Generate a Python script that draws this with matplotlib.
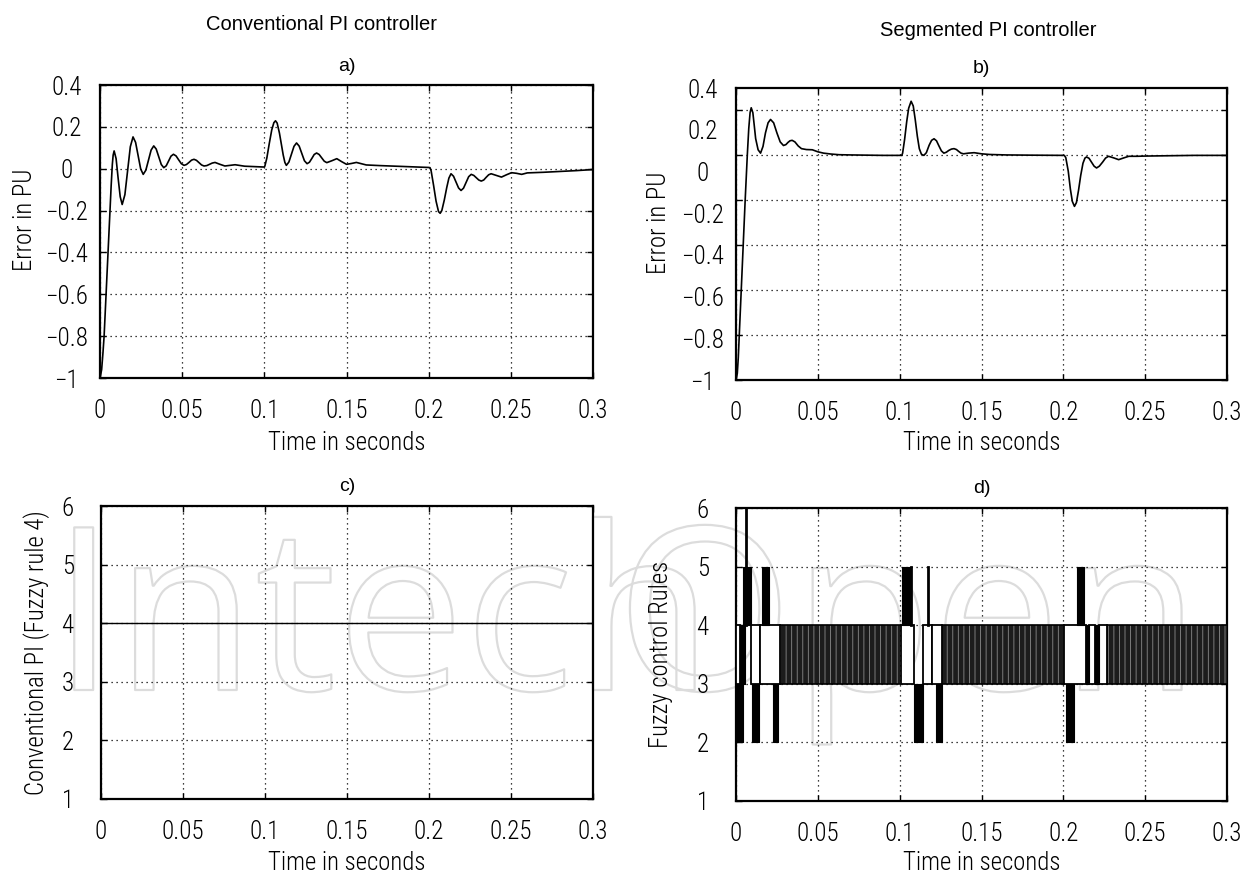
import matplotlib
matplotlib.use('Agg')
import matplotlib.pyplot as plt
from matplotlib import font_manager as fm
from matplotlib.font_manager import FontProperties
from matplotlib.patches import Rectangle
from matplotlib import patheffects as pe

# ---------------- data ----------------
t_a = [0, 0.001, 0.0018, 0.0025, 0.0037, 0.0049, 0.0061, 0.0068, 0.0075, 0.008, 0.0086,
       0.0098, 0.0110, 0.0123, 0.0135, 0.01515, 0.0168, 0.01845, 0.0201, 0.02165, 0.0232, 0.02475,
       0.0263, 0.0279, 0.0295, 0.0311, 0.0327, 0.0342, 0.03575, 0.0373, 0.0388, 0.0403, 0.04175,
       0.0432, 0.0447, 0.0463, 0.0479, 0.0495, 0.0511, 0.0526, 0.05415, 0.0557, 0.0572, 0.0587,
       0.06025, 0.0618, 0.0633, 0.065, 0.0667, 0.0683, 0.070, 0.073, 0.076, 0.079, 0.0822, 0.088,
       0.094, 0.0999, 0.1003, 0.1015, 0.1030, 0.1045, 0.1058, 0.1068, 0.1078, 0.1092, 0.1103,
       0.1115, 0.1125, 0.1134, 0.11495, 0.1165, 0.11805, 0.1196, 0.1212, 0.1228, 0.1244, 0.126,
       0.12745, 0.1289, 0.13035, 0.1318, 0.13335, 0.1349, 0.13645, 0.138, 0.14105, 0.1441, 0.147,
       0.150, 0.153, 0.156, 0.162, 0.17, 0.18, 0.19, 0.2, 0.2008, 0.2015, 0.203, 0.2045, 0.206,
       0.207, 0.208, 0.2095, 0.211, 0.2123, 0.2136, 0.21513, 0.21665, 0.2182, 0.2197, 0.2212,
       0.2228, 0.22435, 0.2259, 0.22745, 0.22895, 0.2305, 0.232, 0.2335, 0.235, 0.2365, 0.238,
       0.24115, 0.2443, 0.24735, 0.2504, 0.2535, 0.2566, 0.26, 0.27, 0.28, 0.29, 0.3]
err_a = [-1.0, -0.96, -0.88, -0.80, -0.60, -0.40, -0.20, -0.08, 0.02, 0.065, 0.085,
         0.048, -0.043, -0.134, -0.171, -0.124, -0.010, 0.105, 0.152, 0.126, 0.062, -0.001,
         -0.027, -0.007, 0.041, 0.089, 0.109, 0.094, 0.057, 0.020, 0.005, 0.014, 0.037,
         0.060, 0.069, 0.061, 0.042, 0.024, 0.016, 0.020, 0.030, 0.041, 0.045, 0.040,
         0.029, 0.018, 0.013, 0.015, 0.021, 0.027, 0.030, 0.021, 0.013, 0.016, 0.019, 0.012,
         0.010, 0.008, 0.012, 0.05, 0.12, 0.185, 0.22, 0.229, 0.218, 0.17, 0.12,
         0.065, 0.03, 0.016, 0.032, 0.069, 0.107, 0.123, 0.108, 0.073, 0.038, 0.024,
         0.031, 0.049, 0.068, 0.075, 0.068, 0.052, 0.036, 0.029, 0.038, 0.048, 0.034,
         0.021, 0.025, 0.030, 0.018, 0.015, 0.012, 0.009, 0.006, 0.005, -0.01, -0.08, -0.155, -0.205,
         -0.213, -0.20, -0.15, -0.09, -0.045, -0.024, -0.036, -0.064, -0.092, -0.104, -0.093,
         -0.065, -0.038, -0.027, -0.032, -0.043, -0.054, -0.059, -0.054, -0.041, -0.029, -0.024,
         -0.032, -0.040, -0.029, -0.019, -0.022, -0.027, -0.020, -0.017, -0.013, -0.009, -0.004]

t_b = [0, 0.0008, 0.0014, 0.002, 0.0032, 0.0044, 0.0056, 0.0069, 0.0078, 0.0086, 0.0093,
       0.0103, 0.0112, 0.012, 0.0135, 0.015, 0.0165, 0.018, 0.0196, 0.0211, 0.023, 0.025, 0.027,
       0.029, 0.0305, 0.0318, 0.033, 0.0343, 0.036, 0.038, 0.040, 0.043, 0.0466, 0.05, 0.0535,
       0.058, 0.063, 0.07, 0.08, 0.09, 0.1013, 0.1018, 0.103, 0.1043, 0.1055, 0.107, 0.1083,
       0.1095, 0.1108, 0.112, 0.1133, 0.1148, 0.1163, 0.118, 0.1195, 0.121, 0.1225, 0.124, 0.1255,
       0.127, 0.1285, 0.130, 0.1316, 0.1332, 0.1347, 0.136, 0.1375, 0.139, 0.142, 0.1455, 0.15,
       0.155, 0.165, 0.18, 0.2006, 0.2015, 0.203, 0.2043, 0.2055, 0.2068, 0.208, 0.2093, 0.2106,
       0.212, 0.2132, 0.2142, 0.2157, 0.2172, 0.2188, 0.2203, 0.222, 0.224, 0.2258, 0.2276,
       0.2307, 0.2338, 0.237, 0.24, 0.245, 0.25, 0.26, 0.27, 0.28, 0.3]
err_b = [-1.0, -0.97, -0.90, -0.80, -0.60, -0.40, -0.20, 0.0, 0.12, 0.19, 0.212,
         0.19, 0.13, 0.075, 0.025, 0.010, 0.04, 0.10, 0.145, 0.16, 0.145, 0.10, 0.06,
         0.044, 0.048, 0.058, 0.065, 0.067, 0.06, 0.042, 0.030, 0.026, 0.025, 0.016, 0.010,
         0.006, 0.003, 0.002, 0.001, 0.0, 0.0, 0.01, 0.07, 0.15, 0.21, 0.241, 0.22,
         0.16, 0.085, 0.03, 0.005, 0.0, 0.012, 0.045, 0.067, 0.074, 0.065, 0.042, 0.02,
         0.010, 0.014, 0.022, 0.028, 0.030, 0.026, 0.018, 0.010, 0.007, 0.010, 0.012, 0.007,
         0.004, 0.002, 0.001, 0.0, -0.01, -0.07, -0.15, -0.205, -0.227, -0.21, -0.155, -0.09,
         -0.035, -0.012, -0.007, -0.013, -0.03, -0.048, -0.056, -0.048, -0.03, -0.012, -0.004,
         -0.011, -0.019, -0.011, -0.004, -0.004, -0.003, -0.002, -0.001, 0.0, 0.0]

# panel c: conventional PI always uses fuzzy rule 4
t_c = [0.0, 0.3]
rule_c = [4, 4]

# panel d: fuzzy rule activity, read as blocks
solid_start = [0.0000, 0.0023, 0.0043, 0.0098, 0.0161, 0.0226, 0.1016, 0.1087, 0.1222, 0.2014, 0.2085, 0.2141, 0.2195]
solid_end   = [0.0043, 0.0057, 0.0092, 0.0139, 0.0200, 0.0255, 0.1062, 0.1141, 0.1258, 0.2063, 0.2129, 0.2154, 0.2220]
solid_low   = [2, 3, 4, 2, 4, 2, 4, 2, 2, 2, 4, 3, 3]
solid_high  = [3, 4, 5, 3, 5, 3, 5, 3, 3, 3, 5, 4, 4]

box_start = [0.0000, 0.0092, 0.0149, 0.1006, 0.1141, 0.1197, 0.2007, 0.2154, 0.2220]
box_end   = [0.0023, 0.0149, 0.0271, 0.1087, 0.1197, 0.1258, 0.2141, 0.2195, 0.2269]
box_low, box_high = 3, 4

dense_start = [0.0271, 0.1258, 0.2269]
dense_end   = [0.1000, 0.2002, 0.3000]
dense_low, dense_high = 3, 4

spike_t    = [0.0060, 0.1067, 0.1173]
spike_low  = [4, 4, 4]
spike_high = [6, 5, 5]

x_ticks = [0, 0.05, 0.1, 0.15, 0.2, 0.25, 0.3]
x_labels = ['0', '0.05', '0.1', '0.15', '0.2', '0.25', '0.3']
err_ticks = [-1, -0.8, -0.6, -0.4, -0.2, 0, 0.2, 0.4]
err_labels = ['\u22121', '\u22120.8', '\u22120.6', '\u22120.4', '\u22120.2', '0', '0.2', '0.4']
rule_ticks = [1, 2, 3, 4, 5, 6]
rule_labels = ['1', '2', '3', '4', '5', '6']

# ---------------- fonts ----------------
def pick_condensed():
    best, best_score = None, -1
    for f in fm.fontManager.ttflist:
        nm = f.name.lower()
        fn = f.fname.lower()
        if 'italic' in fn or 'oblique' in fn or 'bold' in fn or f.style != 'normal':
            continue
        cond = ('narrow' in nm or 'condensed' in nm or 'condensed' in fn or 'narrow' in fn
                or f.stretch in ('condensed', 'semi-condensed', 'extra-condensed'))
        if not cond:
            continue
        score = 1
        if 'narrow' in nm or 'narrow' in fn:
            score = 5
        elif 'roboto' in fn and 'light' in fn:
            score = 6
        elif 'dejavu' in fn:
            score = 3
        elif 'light' in fn:
            score = 4
        if score > best_score:
            best, best_score = f, score
    return best

names = {f.name for f in fm.fontManager.ttflist}
cf = pick_condensed()
if cf is not None:
    thin_fp = FontProperties(fname=cf.fname)
    TICK_FS, LAB_FS = 18, 17.8
else:
    thin_fp = FontProperties(family='DejaVu Sans')
    TICK_FS, LAB_FS = 15, 15
head = 'Liberation Sans' if 'Liberation Sans' in names else 'DejaVu Sans'
wm_family = 'Open Sans' if 'Open Sans' in names else 'DejaVu Sans'

def tfp(size):
    p = thin_fp.copy()
    p.set_size(size)
    return p

# ---------------- figure ----------------
fig = plt.figure(figsize=(12.6, 8.73), dpi=100)
fig.patch.set_facecolor('white')

def px_axes(left, top, right, bottom):
    W, H = 1260.0, 873.0
    return fig.add_axes([left / W, 1 - bottom / H, (right - left) / W, (bottom - top) / H])

ax_a = px_axes(100, 85, 593, 378)
ax_b = px_axes(736, 88, 1227, 380)
ax_c = px_axes(101, 506, 593, 799)
ax_d = px_axes(736, 508, 1227, 801)

def style(ax):
    ax.set_facecolor('none')
    for s in ax.spines.values():
        s.set_linewidth(1.6)
        s.set_color('black')
    ax.grid(True, linestyle=(0, (1, 3)), color='black', linewidth=0.9)
    ax.tick_params(direction='in', top=True, right=True, length=4, width=1)
    ax.tick_params(axis='x', pad=15)
    ax.tick_params(axis='y', pad=24)
    ax.set_xlim(0, 0.3)
    ax.set_xticks(x_ticks)
    ax.set_xticklabels(x_labels, fontproperties=tfp(TICK_FS))
    ax.set_xlabel('Time in seconds', fontproperties=tfp(LAB_FS))
    ax.set_axisbelow(True)

def set_ylabels(axis_obj, ticks, labels):
    axis_obj.set_yticks(ticks)
    axis_obj.set_yticklabels(labels, fontproperties=tfp(TICK_FS))
    for lbl in axis_obj.get_yticklabels():
        lbl.set_horizontalalignment('center')

def place_labels(ax, xl_y, yl_x, yl_y):
    ax.xaxis.set_label_coords(0.5, xl_y)
    ax.yaxis.set_label_coords(yl_x, yl_y)
    ax.yaxis.label.set_verticalalignment('center')

# a)
style(ax_a)
ax_a.plot(t_a, err_a, color='black', linewidth=1.2)
ax_a.set_ylim(-1, 0.4)
set_ylabels(ax_a, err_ticks, err_labels)
ax_a.set_ylabel('Error in PU', fontproperties=tfp(LAB_FS))
place_labels(ax_a, -(431 - 378) / 293, (25 - 100) / 493, (378 - 220) / 293)
ax_a.set_title('a)', fontfamily=head, fontsize=14, pad=10)

# b)
style(ax_b)
ax_b.plot(t_b, err_b, color='black', linewidth=1.2)
ax_b.set_ylim(-1, 0.3)
ax_b.set_yticks(err_ticks[:-1])
ax_b.tick_params(axis='y', labelleft=False)
sec = ax_b.secondary_yaxis('left', functions=(lambda y: -1 + (y + 1) * 1.4 / 1.3,
                                                 lambda s: -1 + (s + 1) * 1.3 / 1.4))
sec.set_yticks(err_ticks)
sec.set_yticklabels(err_labels, fontproperties=tfp(TICK_FS))
for lbl in sec.get_yticklabels():
    lbl.set_horizontalalignment('center')
sec.tick_params(length=0, pad=24)
sec.spines['left'].set_visible(False)
ax_b.set_ylabel('Error in PU', fontproperties=tfp(LAB_FS))
place_labels(ax_b, -(431 - 380) / 292, (659 - 736) / 491, (380 - 223) / 292)
ax_b.set_title('b)', fontfamily=head, fontsize=14, pad=11)

# c)
style(ax_c)
ax_c.plot(t_c, rule_c, color='black', linewidth=1.0)
ax_c.set_ylim(1, 6)
set_ylabels(ax_c, rule_ticks, rule_labels)
ax_c.set_ylabel('Conventional PI (Fuzzy rule 4)', fontproperties=tfp(LAB_FS))
place_labels(ax_c, -(851 - 799) / 293, (37 - 101) / 492, 0.5)
ax_c.set_title('c)', fontfamily=head, fontsize=14, pad=11)

# d)
style(ax_d)
ax_d.set_ylim(1, 6)
set_ylabels(ax_d, rule_ticks, rule_labels)
ax_d.set_ylabel('Fuzzy control Rules', fontproperties=tfp(LAB_FS))
place_labels(ax_d, -(851 - 801) / 293, (661 - 736) / 491, 0.5)
ax_d.set_title('d)', fontfamily=head, fontsize=14, pad=11)

plt.rcParams['hatch.linewidth'] = 0.6
for s0, s1 in zip(dense_start, dense_end):
    ax_d.fill_between([s0, s1], dense_low, dense_high, facecolor='#1c1c1c', edgecolor='#8a8a8a',
                      hatch='|' * 3, linewidth=0, zorder=3)
    ax_d.plot([s0, s1], [dense_high, dense_high], color='black', linewidth=1.2, zorder=4)
    ax_d.plot([s0, s1], [dense_low, dense_low], color='black', linewidth=1.2, zorder=4)
for s0, s1 in zip(box_start, box_end):
    ax_d.add_patch(Rectangle((s0, box_low), s1 - s0, box_high - box_low, facecolor='white',
                             edgecolor='black', linewidth=1.3, zorder=3))
for s0, s1, lo, hi in zip(solid_start, solid_end, solid_low, solid_high):
    ax_d.fill_between([s0, s1], lo, hi, facecolor='black', edgecolor='black', linewidth=0.8, zorder=4)
for tt, lo, hi in zip(spike_t, spike_low, spike_high):
    ax_d.plot([tt, tt], [lo, hi], color='black', linewidth=2.0, zorder=4)

fig.text(321 / 1260, 1 - 25 / 873, 'Conventional PI controller', ha='center', va='center',
         fontfamily=head, fontsize=14.5)
fig.text(988 / 1260, 1 - 30 / 873, 'Segmented PI controller', ha='center', va='center',
         fontfamily=head, fontsize=14.5)

# faint outlined watermark behind the plots
wm_kw = dict(ha='left', va='baseline', fontfamily=wm_family, fontsize=164,
             color=(1, 1, 1, 0), zorder=-5,
             path_effects=[pe.Stroke(linewidth=1.6, foreground='#dcdcdc')])
fig.text(52 / 1260, 1 - 690 / 873, 'Intech', **wm_kw)
fig.text(616 / 1260, 1 - 690 / 873, 'Open', **wm_kw)

fig.savefig('out.png', dpi=100, facecolor='white')
